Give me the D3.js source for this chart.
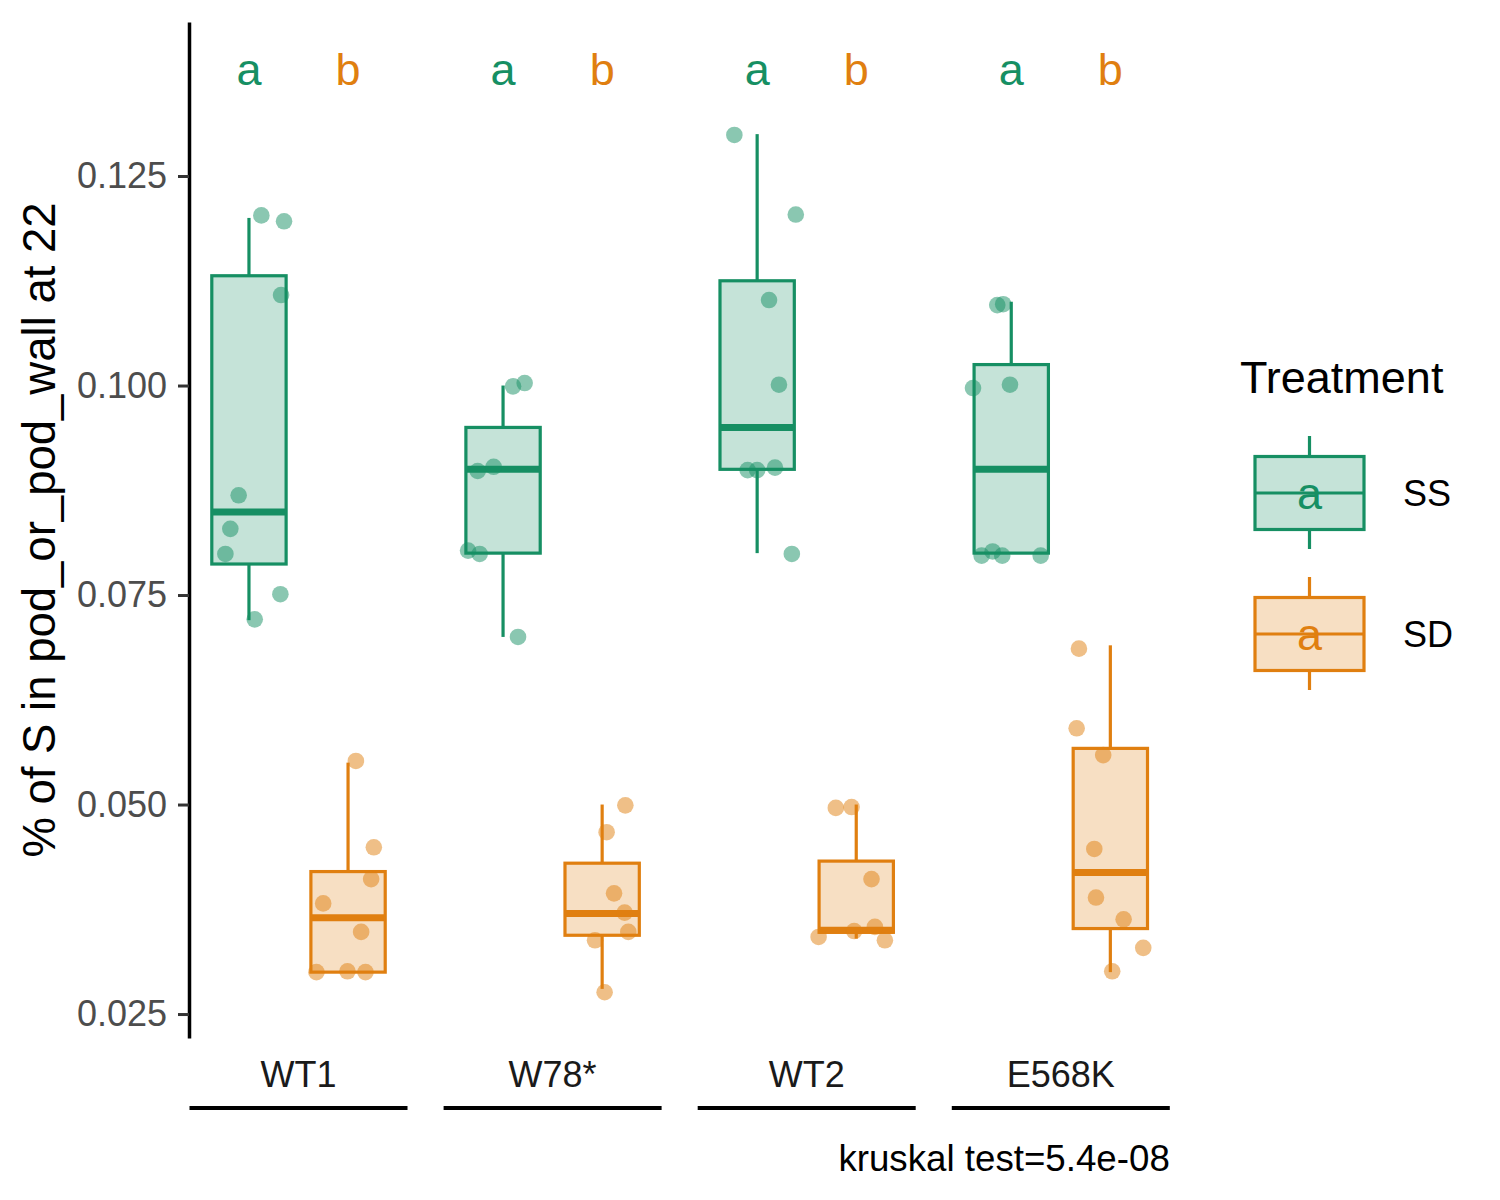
<!DOCTYPE html>
<html>
<head>
<meta charset="utf-8">
<script src="https://cdn.jsdelivr.net/npm/d3@7"></script>
<style>
  html, body { margin: 0; padding: 0; background: #fff; }
  svg { display: block; font-family: "Liberation Sans", Arial, Helvetica, sans-serif; }
</style>
</head>
<body>
<svg id="chart" width="1500" height="1200"></svg>
<script>
// ---------- data ----------
const genotypes = ["WT1", "W78*", "WT2", "E568K"];
const treatments = ["SS", "SD"];
const treatmentColors = ["#168F63", "#E07F10"];
const letters = { SS: "a", SD: "b" };
const letterY = 0.1378;
const yLimits = [0.02214, 0.14338];
const yTicks = [0.025, 0.050, 0.075, 0.100, 0.125];
const yTitle = "% of S in pod_or_pod_wall at 22";
const captionText = "kruskal test=5.4e-08";
const legendTitle = "Treatment";

// box stats: [lower whisker, q1, median, q3, upper whisker]
const boxWT1_SS   = [0.0720, 0.0787, 0.0849, 0.1131, 0.1200];
const boxWT1_SD   = [0.0300, 0.0300, 0.0365, 0.0420, 0.0550];
const boxW78_SS   = [0.0700, 0.0800, 0.0900, 0.0950, 0.1000];
const boxW78_SD   = [0.0280, 0.0344, 0.0370, 0.0430, 0.0500];
const boxWT2_SS   = [0.0800, 0.0900, 0.0950, 0.1125, 0.1300];
const boxWT2_SD   = [0.0340, 0.03475, 0.0350, 0.04325, 0.0500];
const boxE568K_SS = [0.0800, 0.0800, 0.0900, 0.1025, 0.1100];
const boxE568K_SD = [0.0300, 0.0352, 0.0419, 0.0567, 0.0690];

// jittered points: values and horizontal jitter (category units)
const ptsWT1_SS   = [0.1203, 0.1196, 0.1108, 0.0869, 0.0829, 0.0799, 0.0751, 0.0721];
const jitWT1_SS   = [0.125, 0.354, 0.324, -0.104, -0.188, -0.238, 0.317, 0.058];
const ptsWT1_SD   = [0.0552, 0.0449, 0.0411, 0.0382, 0.0348, 0.0300, 0.0301, 0.0300];
const jitWT1_SD   = [0.079, 0.26, 0.233, -0.251, 0.132, -0.319, -0.006, 0.176];
const ptsW78_SS   = [0.0999, 0.1003, 0.0898, 0.0903, 0.0803, 0.0799, 0.0700];
const jitW78_SS   = [0.101, 0.218, -0.256, -0.095, -0.353, -0.236, 0.151];
const ptsW78_SD   = [0.0499, 0.0467, 0.0394, 0.0371, 0.0348, 0.0338, 0.0276];
const jitW78_SD   = [0.234, 0.045, 0.12, 0.227, 0.264, -0.072, 0.025];
const ptsWT2_SS   = [0.1299, 0.1204, 0.1102, 0.1001, 0.0899, 0.0899, 0.0902, 0.0799];
const jitWT2_SS   = [-0.23, 0.39, 0.12, 0.22, -0.096, 0.0, 0.18, 0.35];
const ptsWT2_SD   = [0.0496, 0.0497, 0.0411, 0.0349, 0.0354, 0.0342, 0.0338];
const jitWT2_SD   = [-0.206, -0.047, 0.154, -0.021, 0.188, -0.38, 0.289];
const ptsE568K_SS = [0.1096, 0.1097, 0.0997, 0.1001, 0.0797, 0.0802, 0.0797, 0.0797];
const jitE568K_SS = [-0.141, -0.081, -0.386, -0.013, -0.299, -0.188, -0.091, 0.297];
const ptsE568K_SD = [0.0686, 0.0591, 0.0559, 0.0447, 0.0389, 0.0363, 0.0329, 0.0301];
const jitE568K_SD = [-0.317, -0.34, -0.072, -0.162, -0.145, 0.134, 0.332, 0.019];

const groups = [
  { g: "WT1",   t: "SS", box: boxWT1_SS,   pts: ptsWT1_SS,   jit: jitWT1_SS },
  { g: "WT1",   t: "SD", box: boxWT1_SD,   pts: ptsWT1_SD,   jit: jitWT1_SD },
  { g: "W78*",  t: "SS", box: boxW78_SS,   pts: ptsW78_SS,   jit: jitW78_SS },
  { g: "W78*",  t: "SD", box: boxW78_SD,   pts: ptsW78_SD,   jit: jitW78_SD },
  { g: "WT2",   t: "SS", box: boxWT2_SS,   pts: ptsWT2_SS,   jit: jitWT2_SS },
  { g: "WT2",   t: "SD", box: boxWT2_SD,   pts: ptsWT2_SD,   jit: jitWT2_SD },
  { g: "E568K", t: "SS", box: boxE568K_SS, pts: ptsE568K_SS, jit: jitE568K_SS },
  { g: "E568K", t: "SD", box: boxE568K_SD, pts: ptsE568K_SD, jit: jitE568K_SD }
];

// ---------- scales ----------
const svg = d3.select("#chart");
const color = d3.scaleOrdinal().domain(treatments).range(treatmentColors);
const y = d3.scaleLinear().domain(yLimits).range([1038, 22]);
const facet = d3.scaleBand().domain(genotypes).range([189.5, 1169.8]).paddingInner(0.142).paddingOuter(0);
const inner = d3.scalePoint().domain(treatments).range([0, facet.bandwidth()]).padding(0.6);
const unit = inner.step();
const boxW = 0.75 * unit;
const xc = (g, t) => facet(g) + inner(t);

// ---------- boxes ----------
const gBoxes = svg.append("g");
groups.forEach(d => {
  const cx = xc(d.g, d.t);
  const c = color(d.t);
  const [lo, q1, med, q3, hi] = d.box;
  const g = gBoxes.append("g");
  g.append("line").attr("x1", cx).attr("x2", cx).attr("y1", y(q3)).attr("y2", y(hi))
    .attr("stroke", c).attr("stroke-width", 3.2);
  g.append("line").attr("x1", cx).attr("x2", cx).attr("y1", y(q1)).attr("y2", y(lo))
    .attr("stroke", c).attr("stroke-width", 3.2);
  g.append("rect").attr("x", cx - boxW / 2).attr("width", boxW)
    .attr("y", y(q3)).attr("height", Math.max(0, y(q1) - y(q3)))
    .attr("fill", c).attr("fill-opacity", 0.25)
    .attr("stroke", c).attr("stroke-width", 3.2);
  g.append("line").attr("x1", cx - boxW / 2).attr("x2", cx + boxW / 2)
    .attr("y1", y(med)).attr("y2", y(med))
    .attr("stroke", c).attr("stroke-width", 7);
});

// ---------- points ----------
const gPts = svg.append("g");
groups.forEach(d => {
  const cx = xc(d.g, d.t);
  d.pts.forEach((v, i) => {
    gPts.append("circle")
      .attr("cx", cx + d.jit[i] * unit)
      .attr("cy", y(v))
      .attr("r", 8.3)
      .attr("fill", color(d.t))
      .attr("fill-opacity", 0.5);
  });
});

// ---------- significance letters ----------
genotypes.forEach(g => {
  treatments.forEach(t => {
    svg.append("text")
      .attr("x", xc(g, t)).attr("y", y(letterY)).attr("dy", "0.36em")
      .attr("text-anchor", "middle")
      .attr("font-size", 45)
      .attr("fill", color(t))
      .text(letters[t]);
  });
});

// ---------- y axis ----------
const yAxis = d3.axisLeft(y).tickValues(yTicks).tickFormat(d3.format(".3f"))
  .tickSize(11).tickSizeOuter(0).tickPadding(11);
const gy = svg.append("g").attr("transform", "translate(189,0)").call(yAxis);
gy.select(".domain").attr("stroke", "#000").attr("stroke-width", 3.5);
gy.selectAll(".tick line").attr("stroke", "#333").attr("stroke-width", 3);
gy.selectAll(".tick text").attr("fill", "#4D4D4D").attr("font-size", 36)
  .attr("font-family", "'Liberation Sans', Arial, sans-serif");

svg.append("text")
  .attr("transform", "translate(55," + ((y.range()[0] + y.range()[1]) / 2) + ") rotate(-90)")
  .attr("text-anchor", "middle")
  .attr("font-size", 45.5)
  .attr("fill", "#000")
  .text(yTitle);

// ---------- facet strips (bottom) ----------
genotypes.forEach(g => {
  svg.append("text")
    .attr("x", facet(g) + facet.bandwidth() / 2).attr("y", 1087)
    .attr("text-anchor", "middle").attr("font-size", 36).attr("fill", "#1A1A1A")
    .text(g);
  svg.append("line")
    .attr("x1", facet(g)).attr("x2", facet(g) + facet.bandwidth())
    .attr("y1", 1108).attr("y2", 1108)
    .attr("stroke", "#000").attr("stroke-width", 4);
});

// ---------- caption ----------
svg.append("text")
  .attr("x", facet.range()[1]).attr("y", 1171)
  .attr("text-anchor", "end").attr("font-size", 36.7).attr("fill", "#000")
  .text(captionText);

// ---------- legend ----------
const lg = svg.append("g");
lg.append("text").attr("x", 1240).attr("y", 393).attr("font-size", 45).attr("fill", "#000").text(legendTitle);
const keyX = 1255, keyW = 109, keyBoxH = 73, keyStep = 141, keyMid0 = 493;
treatments.forEach((t, i) => {
  const c = color(t);
  const mid = keyMid0 + i * keyStep;
  const cx = keyX + keyW / 2;
  lg.append("line").attr("x1", cx).attr("x2", cx).attr("y1", mid - 57).attr("y2", mid + 56)
    .attr("stroke", c).attr("stroke-width", 3.2);
  lg.append("rect").attr("x", keyX).attr("y", mid - keyBoxH / 2).attr("width", keyW).attr("height", keyBoxH)
    .attr("fill", "#fff").attr("stroke", "none");
  lg.append("rect").attr("x", keyX).attr("y", mid - keyBoxH / 2).attr("width", keyW).attr("height", keyBoxH)
    .attr("fill", c).attr("fill-opacity", 0.25).attr("stroke", c).attr("stroke-width", 3.2);
  lg.append("line").attr("x1", keyX).attr("x2", keyX + keyW).attr("y1", mid).attr("y2", mid)
    .attr("stroke", c).attr("stroke-width", 3.2);
  lg.append("text").attr("x", cx).attr("y", mid).attr("dy", "0.36em")
    .attr("text-anchor", "middle").attr("font-size", 45).attr("fill", c).text("a");
  lg.append("text").attr("x", 1403).attr("y", mid).attr("dy", "0.36em")
    .attr("font-size", 36).attr("fill", "#000").text(t);
});
</script>
</body>
</html>
